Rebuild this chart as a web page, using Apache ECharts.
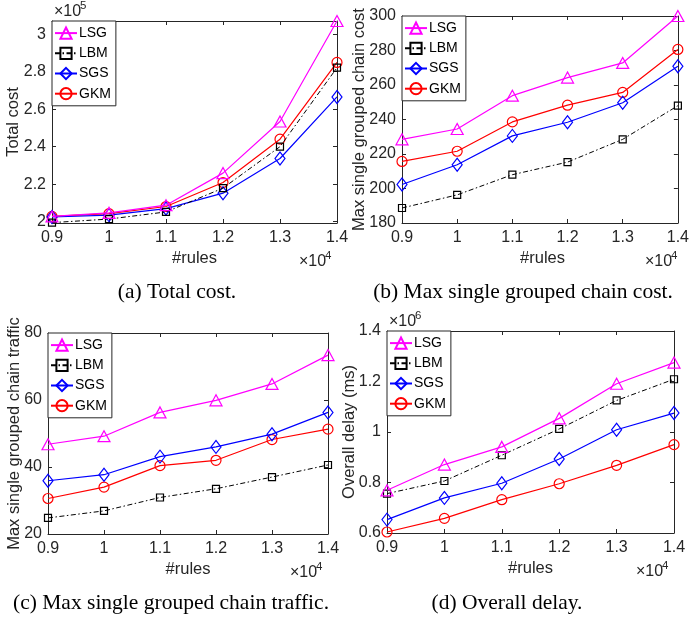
<!DOCTYPE html>
<html>
<head>
<meta charset="utf-8">
<script src="https://cdn.jsdelivr.net/npm/echarts@6/dist/echarts.min.js"></script>
<style>html,body{margin:0;padding:0;background:#fff;}#c{width:692px;height:622px;}</style>
</head>
<body>
<div id="c"></div>
<script>
// ---- data ----
const rules = ['0.9', '1', '1.1', '1.2', '1.3', '1.4'];
const methods = ['LSG', 'LBM', 'SGS', 'GKM'];

// (a) Total cost, x1e5
const totalCostLSG = [2.028, 2.047, 2.088, 2.259, 2.534, 3.07];
const totalCostLBM = [1.995, 2.014, 2.052, 2.179, 2.40, 2.821];
const totalCostSGS = [2.025, 2.035, 2.07, 2.152, 2.337, 2.665];
const totalCostGKM = [2.028, 2.043, 2.081, 2.209, 2.44, 2.849];
const totalCostTicks = [2, 2.2, 2.4, 2.6, 2.8, 3];

// (b) Max single grouped chain cost
const chainCostLSG = [228.5, 234.5, 253.8, 264.3, 272.8, 300];
const chainCostLBM = [188.7, 196.3, 208, 215.3, 228.5, 248];
const chainCostSGS = [202.3, 213.8, 230.5, 238.4, 249.7, 270.9];
const chainCostGKM = [215.7, 221.6, 238.6, 248.3, 255.7, 280.6];
const chainCostTicks = [180, 200, 220, 240, 260, 280, 300];

// (c) Max single grouped chain traffic
const trafficLSG = [46.8, 49.2, 56.3, 59.9, 64.8, 73.4];
const trafficLBM = [24.8, 26.9, 30.9, 33.5, 37.0, 40.6];
const trafficSGS = [35.9, 37.7, 43.1, 46.0, 49.8, 56.3];
const trafficGKM = [30.6, 34.0, 40.4, 42.0, 48.2, 51.3];
const trafficTicks = [20, 40, 60, 80];

// (d) Overall delay (ms), x1e6
const delayLSG = [0.769, 0.871, 0.941, 1.054, 1.191, 1.275];
const delayLBM = [0.756, 0.806, 0.908, 1.012, 1.125, 1.209];
const delaySGS = [0.653, 0.739, 0.797, 0.893, 1.009, 1.075];
const delayGKM = [0.604, 0.658, 0.732, 0.795, 0.868, 0.950];
const delayTicks = [0.6, 0.8, 1, 1.2, 1.4];

// ---- panels (layout) ----
const panels = [
  { data: [totalCostLSG, totalCostLBM, totalCostSGS, totalCostGKM], ticks: totalCostTicks,
    min: 1.993, max: 3.07, yName: 'Total cost', yExp: '5', caption: '(a) Total cost.',
    grid: { left: 52, top: 21, width: 285, height: 202 }, yNameX: 13, capX: 177, capY: 292 },
  { data: [chainCostLSG, chainCostLBM, chainCostSGS, chainCostGKM], ticks: chainCostTicks,
    min: 180, max: 300, yName: 'Max single grouped chain cost', yExp: null, caption: '(b) Max single grouped chain cost.',
    grid: { left: 402, top: 16, width: 281, height: 207 }, yNameX: 359, capX: 523, capY: 292 },
  { data: [trafficLSG, trafficLBM, trafficSGS, trafficGKM], ticks: trafficTicks,
    min: 20, max: 80, yName: 'Max single grouped chain traffic', yExp: null, caption: '(c) Max single grouped chain traffic.',
    grid: { left: 48, top: 333, width: 280, height: 201 }, yNameX: 14, capX: 171, capY: 603 },
  { data: [delayLSG, delayLBM, delaySGS, delayGKM], ticks: delayTicks,
    min: 0.6, max: 1.4, yName: 'Overall delay (ms)', yExp: '6', caption: '(d) Overall delay.',
    grid: { left: 387, top: 331, width: 287, height: 202 }, yNameX: 349, capX: 507, capY: 603 }
];

const styles = {
  LSG: { color: '#FF00FF', symbol: 'triangle', size: [12, 11], type: 'solid' },
  LBM: { color: '#000000', symbol: 'rect', size: [7, 7], type: [5, 2.5, 1.5, 2.5] },
  SGS: { color: '#0000FF', symbol: 'diamond', size: [10, 13], type: 'solid' },
  GKM: { color: '#FF0000', symbol: 'circle', size: [10, 10], type: 'solid' }
};

const axisColor = '#262626';
const font = "'Liberation Sans', Arial, sans-serif";
const grids = [], xAxes = [], yAxes = [], series = [], legends = [], graphics = [];

function fmt(v) { return String(parseFloat(v.toFixed(3))); }

panels.forEach((p, i) => {
  grids.push(Object.assign({ containLabel: false }, p.grid));
  const g = p.grid;
  const axisLine = { show: true, onZero: false, lineStyle: { color: axisColor, width: 1 } };
  xAxes.push({ type: 'category', gridIndex: i, data: rules, boundaryGap: false, position: 'bottom',
    axisLine, axisTick: { inside: true, length: 4, lineStyle: { color: axisColor } },
    axisLabel: { color: axisColor, fontSize: 16, fontFamily: font, margin: 7 }, splitLine: { show: false } });
  xAxes.push({ type: 'category', gridIndex: i, data: rules, boundaryGap: false, position: 'top',
    axisLine, axisTick: { inside: true, length: 4, lineStyle: { color: axisColor } },
    axisLabel: { show: false }, splitLine: { show: false } });
  yAxes.push({ type: 'value', gridIndex: i, min: p.min, max: p.max, position: 'left',
    axisLine, axisTick: { show: true, inside: true, length: 4, customValues: p.ticks, lineStyle: { color: axisColor } },
    axisLabel: { color: axisColor, fontSize: 16, fontFamily: font, margin: 6, customValues: p.ticks, formatter: fmt },
    splitLine: { show: false } });
  yAxes.push({ type: 'value', gridIndex: i, min: p.min, max: p.max, position: 'right',
    axisLine, axisTick: { show: true, inside: true, length: 4, customValues: p.ticks, lineStyle: { color: axisColor } },
    axisLabel: { show: false, customValues: p.ticks }, splitLine: { show: false } });

  methods.forEach((m, k) => {
    const s = styles[m];
    series.push({
      name: m, type: 'line', xAxisIndex: 2 * i, yAxisIndex: 2 * i,
      data: p.data[k], symbol: s.symbol, symbolSize: s.size, showAllSymbol: true,
      color: s.color,
      lineStyle: { color: s.color, width: m === 'LBM' ? 1 : 1.2, type: s.type },
      itemStyle: { color: 'none', borderColor: s.color, borderWidth: 1.2 },
      emphasis: { disabled: true }, animation: false, z: 3 + (3 - k)
    });
  });

  legends.push({
    data: methods, orient: 'vertical', left: g.left, top: g.top,
    backgroundColor: '#fff', borderColor: axisColor, borderWidth: 1, borderRadius: 0,
    padding: [4, 5, 4, 2], itemGap: 4, itemWidth: 22, itemHeight: 14,
    textStyle: { fontSize: 14, fontFamily: font, color: '#000', padding: [0, 0, 0, -3] },
    selectedMode: false
  });

  // axis titles
  graphics.push({ type: 'text', x: p.yNameX, y: g.top + g.height / 2, rotation: Math.PI / 2,
    style: { text: p.yName, fontSize: 16.5, fontFamily: font, fill: axisColor, align: 'center', verticalAlign: 'middle' } });
  graphics.push({ type: 'text', x: g.left + g.width / 2, y: g.top + g.height + 35,
    style: { text: '#rules', fontSize: 16.5, fontFamily: font, fill: axisColor, align: 'center', verticalAlign: 'middle' } });
  // x exponent
  graphics.push({ type: 'text', x: g.left + g.width - 38, y: g.top + g.height + 39,
    style: { text: '×10', fontSize: 16, fontFamily: font, fill: axisColor, align: 'left', verticalAlign: 'middle' } });
  graphics.push({ type: 'text', x: g.left + g.width - 12, y: g.top + g.height + 33,
    style: { text: '4', fontSize: 11.5, fontFamily: font, fill: axisColor, align: 'left', verticalAlign: 'middle' } });
  if (p.yExp) {
    graphics.push({ type: 'text', x: g.left + 2, y: g.top - 9,
      style: { text: '×10', fontSize: 16, fontFamily: font, fill: axisColor, align: 'left', verticalAlign: 'middle' } });
    graphics.push({ type: 'text', x: g.left + 28, y: g.top - 15,
      style: { text: p.yExp, fontSize: 11.5, fontFamily: font, fill: axisColor, align: 'left', verticalAlign: 'middle' } });
  }
  // caption
  graphics.push({ type: 'text', x: p.capX, y: p.capY,
    style: { text: p.caption, fontSize: 21.5, fontFamily: "'Liberation Serif', 'Times New Roman', serif", fill: '#000', align: 'center', verticalAlign: 'middle' } });
});

const chart = echarts.init(document.getElementById('c'), null, { renderer: 'canvas' });
chart.setOption({
  animation: false,
  backgroundColor: '#fff',
  grid: grids, xAxis: xAxes, yAxis: yAxes, series: series, legend: legends,
  graphic: { elements: graphics }
});
</script>
</body>
</html>
